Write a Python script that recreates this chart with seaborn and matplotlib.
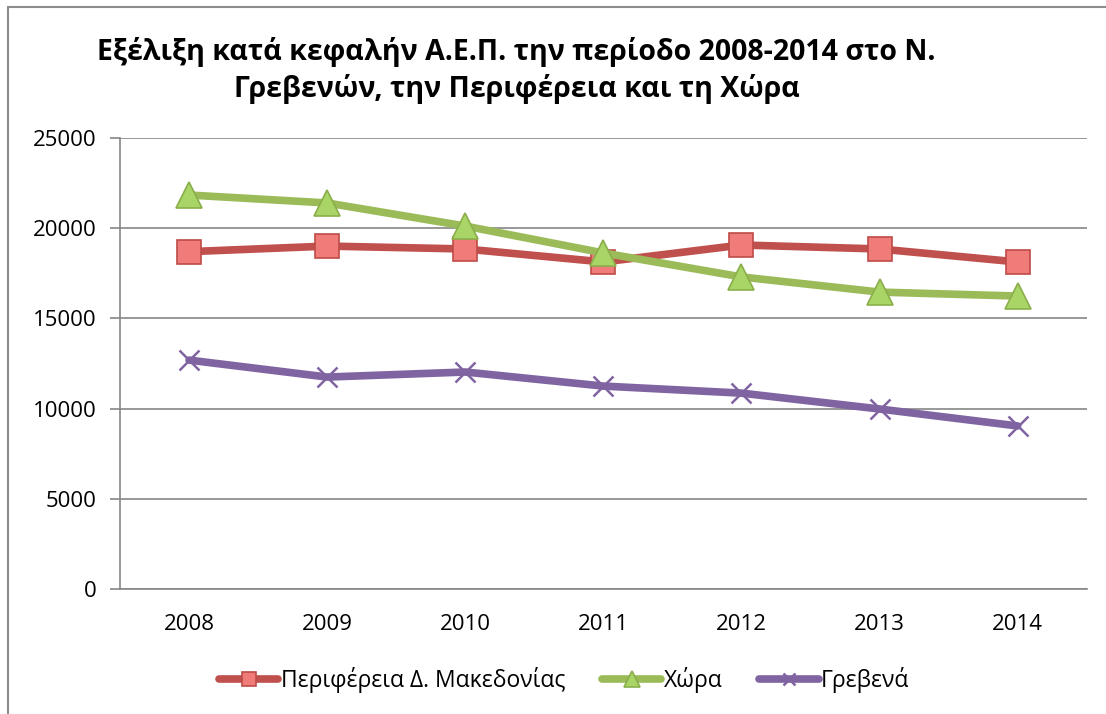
import pandas as pd
import matplotlib.pyplot as plt
import matplotlib.lines as mlines
import seaborn as sns

years = ['2008', '2009', '2010', '2011', '2012', '2013', '2014']
perifereia = [18700, 19010, 18850, 18130, 19070, 18850, 18130]
xora = [21840, 21400, 20120, 18630, 17300, 16460, 16240]
grevena = [12690, 11750, 12030, 11250, 10860, 9980, 9040]

series_names = ['Περιφέρεια Δ. Μακεδονίας', 'Χώρα', 'Γρεβενά']
y_ticks = [0, 5000, 10000, 15000, 20000, 25000]


def main():
    sns.set_style('white')
    plt.rcParams['font.family'] = ['Open Sans', 'DejaVu Sans']
    plt.rcParams['text.color'] = 'black'
    plt.rcParams['xtick.color'] = 'black'
    plt.rcParams['ytick.color'] = 'black'

    df = pd.DataFrame({
        'year': years * 3,
        'x': list(range(len(years))) * 3,
        'value': perifereia + xora + grevena,
        'series': [series_names[0]] * 7 + [series_names[1]] * 7 + [series_names[2]] * 7,
    })

    fig = plt.figure(figsize=(11.06, 7.14), dpi=100)
    ax = fig.add_axes([0.1085, 0.175, 0.874, 0.6317])

    # chart border: only top and left edges are visible in the original
    fig.add_artist(mlines.Line2D([0.0075, 1.0], [0.990, 0.990], transform=fig.transFigure,
                                color='#8c8c8c', linewidth=1.5))
    fig.add_artist(mlines.Line2D([0.0075, 0.0075], [0.0, 0.990], transform=fig.transFigure,
                                color='#8c8c8c', linewidth=1.5))

    styles = {
        series_names[0]: dict(color='#C0504D', marker='s', mfc='#F07C7A', mec='#BE4B48', ms=17.5, mew=1.2),
        series_names[1]: dict(color='#9BBB59', marker='^', mfc='#A9D466', mec='#8AAF4A', ms=19, mew=1.2),
        series_names[2]: dict(color='#8064A2', marker='x', mfc='#8064A2', mec='#8064A2', ms=14, mew=1.8),
    }

    for name in series_names:
        st = styles[name]
        sub = df[df['series'] == name]
        sns.lineplot(data=sub, x='x', y='value', ax=ax, color=st['color'], linewidth=5.5,
                     marker=st['marker'], markersize=st['ms'], markerfacecolor=st['mfc'],
                     markeredgecolor=st['mec'], markeredgewidth=st['mew'], label=name,
                     solid_capstyle='round', legend=False)

    ax.set_xlim(-0.5, 6.5)
    ax.set_ylim(0, 25000)
    ax.set_yticks(y_ticks)
    ax.set_yticklabels([str(v) for v in y_ticks], fontsize=16)
    ax.set_xticks(range(len(years)))
    ax.set_xticklabels(years, fontsize=16)
    ax.tick_params(axis='x', length=0, pad=18)
    ax.set_xticks([i - 0.5 for i in range(len(years) + 1)], minor=True)
    ax.tick_params(axis='x', which='minor', length=7, color='#868686', width=1.2, direction='out')
    ax.tick_params(axis='y', length=7, color='#868686', width=1.2, direction='out', left=True, pad=10)
    ax.yaxis.grid(True, color='#868686', linewidth=1.2)
    ax.set_axisbelow(True)
    for side in ['top', 'right']:
        ax.spines[side].set_visible(False)
    for side in ['left', 'bottom']:
        ax.spines[side].set_color('#868686')
        ax.spines[side].set_linewidth(1.2)
    ax.set_xlabel('')
    ax.set_ylabel('')

    fig.text(0.467, 0.901, 'Εξέλιξη κατά κεφαλήν Α.Ε.Π. την περίοδο 2008-2014 στο Ν.\nΓρεβενών, την Περιφέρεια και τη Χώρα',
             ha='center', va='center', fontsize=20.5, fontweight='bold', linespacing=1.3)

    handles, labels = ax.get_legend_handles_labels()
    fig.legend(handles, labels, loc='center', bbox_to_anchor=(0.51, 0.047), ncol=3, frameon=False,
               fontsize=16.5, handlelength=2.6, handletextpad=0.1, columnspacing=1.6, markerscale=0.6)

    fig.savefig('out.png', dpi=100)


if __name__ == '__main__':
    main()
